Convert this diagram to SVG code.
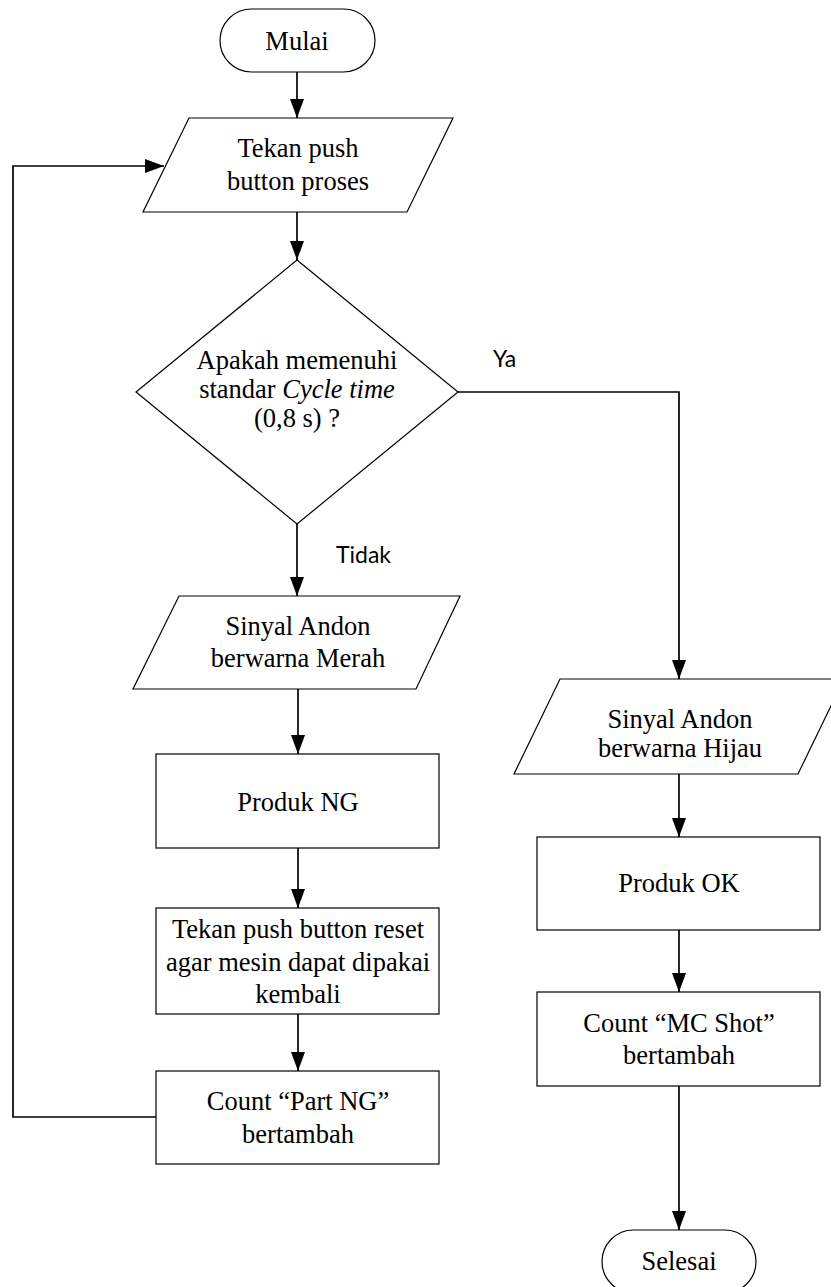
<svg xmlns="http://www.w3.org/2000/svg" width="831" height="1287" viewBox="0 0 831 1287">
<style>
.shape{fill:#fff;stroke:#000;stroke-width:1.2}
.t{font-family:"Liberation Serif","Times New Roman",serif;font-size:26.5px;fill:#000;text-anchor:middle}
.lbl{font-family:Lato,"Open Sans",sans-serif;font-size:23px;fill:#000}
.c{fill:none;stroke:#000;stroke-width:1.7}
</style>
<defs>
<marker id="ah" markerUnits="userSpaceOnUse" markerWidth="20" markerHeight="15" refX="19" refY="7" orient="auto">
<path d="M0,0 L19,7 L0,14 z" fill="#000"/>
</marker>
</defs>
<rect width="831" height="1287" fill="#fff"/>
<g id="connectors">
<line class="c" x1="297" y1="72" x2="297" y2="118" marker-end="url(#ah)"/>
<line class="c" x1="297" y1="212" x2="297" y2="260" marker-end="url(#ah)"/>
<line class="c" x1="297" y1="524" x2="297" y2="596" marker-end="url(#ah)"/>
<line class="c" x1="298" y1="689" x2="298" y2="754" marker-end="url(#ah)"/>
<line class="c" x1="298" y1="848" x2="298" y2="908" marker-end="url(#ah)"/>
<line class="c" x1="298" y1="1014" x2="298" y2="1071" marker-end="url(#ah)"/>
<polyline class="c" points="156,1117 13,1117 13,166 164,166" marker-end="url(#ah)"/>
<polyline class="c" points="458,392 679,392 679,679" marker-end="url(#ah)"/>
<line class="c" x1="679" y1="774" x2="679" y2="837" marker-end="url(#ah)"/>
<line class="c" x1="679" y1="930" x2="679" y2="992" marker-end="url(#ah)"/>
<line class="c" x1="679" y1="1086" x2="679" y2="1230" marker-end="url(#ah)"/>
<text class="lbl" x="493" y="367">Ya</text>
<text class="lbl" x="336" y="563">Tidak</text>
</g>
<g id="mulai">
<rect class="shape" x="220" y="9" width="155" height="63" rx="31.5"/>
<text class="t" x="297" y="50">Mulai</text>
</g>
<g id="tekan-proses">
<polygon class="shape" points="189,118 453,118 407,212 143,212"/>
<text class="t" x="298" y="157">Tekan push</text>
<text class="t" x="298" y="190">button proses</text>
</g>
<g id="decision">
<polygon class="shape" points="297,260 458,392 297,524 136,392"/>
<text class="t" x="297" y="369">Apakah memenuhi</text>
<text class="t" x="297" y="398">standar <tspan font-style="italic">Cycle time</tspan></text>
<text class="t" x="297" y="427">(0,8 s) ?</text>
</g>
<g id="merah">
<polygon class="shape" points="179,596 460,596 416,689 133,689"/>
<text class="t" x="298" y="635">Sinyal Andon</text>
<text class="t" x="298" y="667">berwarna Merah</text>
</g>
<g id="produk-ng">
<rect class="shape" x="156" y="754" width="283" height="94"/>
<text class="t" x="298" y="811">Produk NG</text>
</g>
<g id="reset">
<rect class="shape" x="156" y="908" width="283" height="106"/>
<text class="t" x="298" y="938">Tekan push button reset</text>
<text class="t" x="298" y="971">agar mesin dapat dipakai</text>
<text class="t" x="298" y="1003">kembali</text>
</g>
<g id="count-ng">
<rect class="shape" x="156" y="1071" width="283" height="93"/>
<text class="t" x="298" y="1110">Count “Part NG”</text>
<text class="t" x="298" y="1143">bertambah</text>
</g>
<g id="hijau">
<polygon class="shape" points="560,679 844,679 798,774 514,774"/>
<text class="t" x="680" y="728">Sinyal Andon</text>
<text class="t" x="680" y="757">berwarna Hijau</text>
</g>
<g id="produk-ok">
<rect class="shape" x="537" y="837" width="283" height="93"/>
<text class="t" x="679" y="892">Produk OK</text>
</g>
<g id="count-mc">
<rect class="shape" x="537" y="992" width="283" height="94"/>
<text class="t" x="679" y="1032">Count “MC Shot”</text>
<text class="t" x="679" y="1064">bertambah</text>
</g>
<g id="selesai">
<rect class="shape" x="602" y="1230" width="154" height="63" rx="31.5"/>
<text class="t" x="679" y="1270">Selesai</text>
</g>
</svg>
